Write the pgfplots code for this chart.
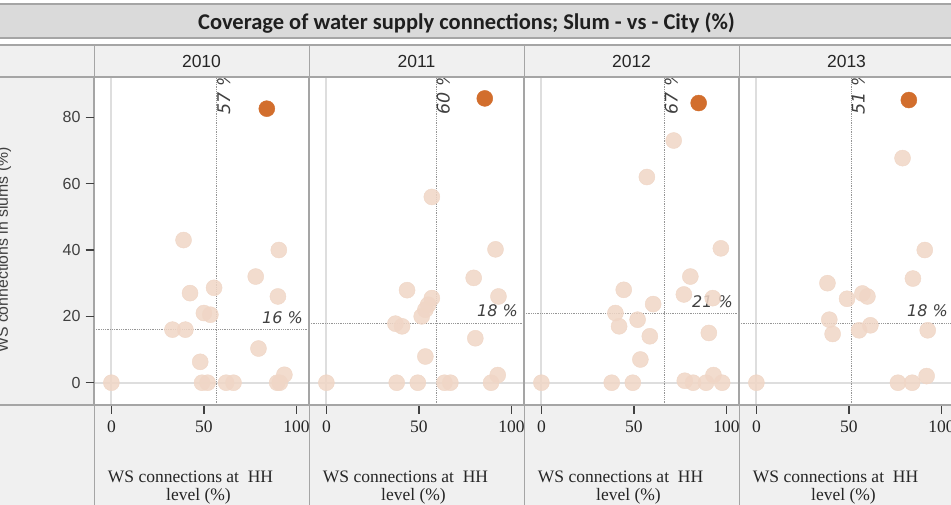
\documentclass[border=0pt]{standalone}
\usepackage{fontspec}
\usepackage{pgfplots}
\usepackage{pgfplotstable}
\pgfplotsset{compat=1.18}
\setmainfont{Liberation Serif}
\newfontfamily\sansf{Liberation Sans}
\newfontfamily\carl{Carlito}
\newfontfamily\dvs{DejaVu Sans}
\definecolor{titlegray}{RGB}{218,218,218}
\definecolor{hdrgray}{RGB}{240,240,240}
\definecolor{bordgray}{RGB}{165,165,165}
\definecolor{ptlight}{RGB}{240,214,198}
\definecolor{pthigh}{RGB}{210,110,45}
\definecolor{zerogray}{RGB}{222,222,222}
\definecolor{refgray}{RGB}{150,150,150}

\pgfplotstableread{
x y
0 0
39 43
42.5 27
33 16
40 16
50 21
53.5 20.5
55.5 28.6
48 6.3
49 0
52 0
62 0
66 0
78 32
90.5 40
90 26
79.5 10.3
89.6 0
91 0
93.5 2.4
}\dataA
\pgfplotstableread{
x y
0 0
57 56
91.4 40.2
79.6 31.6
43.6 27.9
57 25.5
55 23.5
53.5 22
51.5 20
37.3 17.8
40.9 17
93 26
80.5 13.4
53.5 7.9
38 0
49.4 0
63.8 0
67 0
89 0
92.6 2.3
}\dataB
\pgfplotstableread{
x y
0 0
71.5 73
57 62
97 40.5
80.5 32
44.5 28
77 26.6
92.6 25.5
60.4 23.7
40 21
42 17
52 19
58.6 14
53.5 7
90.5 15
38 0
49.4 0
77.5 0.6
82 0
89 0
93 2.3
97.7 0
}\dataC
\pgfplotstableread{
x y
0 0
79 67.7
91 40
84.6 31.4
38.4 30
49 25.3
57.3 26.9
60 26
39.4 19
41.2 14.7
55.5 15.8
61.6 17.3
92.6 15.8
76.5 0
84.2 0
92 2
}\dataD

\pgfplotsset{
  panel/.style={
    scale only axis, width=215pt, height=328pt, anchor=north west,
    xmin=-9.4, xmax=106.8, ymin=-6.72, ymax=92.15,
    axis line style={bordgray, line width=1.5pt},
    xtick={0,50,100}, xtick pos=left, ytick pos=left,
    tick align=outside, major tick length=8pt,
    major tick style={draw=black!75, line width=1.5pt},
    /pgf/number format/assume math mode=true,
    xticklabel style={font=\fontsize{17.5}{20}\selectfont, text=black!85, yshift=-4pt},
    yticklabel style={font=\sansf\fontsize{16}{18}\selectfont, text=black!75, xshift=-2pt},
  },
  lightpts/.style={only marks, color=ptlight, mark=*, mark size=8pt, mark options={draw=none, fill=ptlight, fill opacity=0.85}},
  highpt/.style={only marks, color=pthigh, mark=*, mark size=8pt, mark options={draw=none, fill=pthigh}},
}
\tikzset{
  zeroline/.style={zerogray, line width=1.8pt},
  refline/.style={refgray, densely dotted, line width=0.8pt},
  vlab/.style={rotate=90, anchor=north west, inner sep=0pt, xshift=6pt, font=\dvs\itshape\fontsize{17.5}{20}\selectfont, text=black!75},
  hlab/.style={anchor=base east, inner sep=1pt, xshift=-5pt, yshift=6pt, fill=white, fill opacity=0.6, text opacity=1, font=\dvs\itshape\fontsize{16}{18}\selectfont, text=black!75},
}

\newcommand{\panelbody}[6]{%
  \draw[zeroline] (axis cs:0,-6.72) -- (axis cs:0,92.15);
  \draw[zeroline] (axis cs:-9.4,0) -- (axis cs:106.8,0);
  \addplot[lightpts] table {#1};
  \addplot[highpt] coordinates {(#2,#3)};
  \draw[refline] (axis cs:#4,-6.72) -- (axis cs:#4,92.15);
  \draw[refline] (axis cs:-9.4,#5) -- (axis cs:106.8,#5);
  \node[vlab] at (axis cs:#4,78.9) {#6 \%};
}

\begin{document}
\begin{tikzpicture}
\useasboundingbox (0pt,0pt) rectangle (951pt,-505pt);
\begin{scope}[x=1pt,y=-1pt]
  \fill[white] (0,0) rectangle (951,505);
  \fill[hdrgray] (0,77) rectangle (94,505);
  \fill[hdrgray] (0,405) rectangle (951,505);
\end{scope}

\begin{axis}[panel, at={(94pt,-77pt)}, ytick={0,20,40,60,80}]
  \panelbody{\dataA}{84}{82.6}{57}{16}{57}
  \node[hlab] at (axis cs:106.8,16) {16 \%};
\end{axis}
\begin{axis}[panel, at={(309pt,-77pt)}, ytick=\empty]
  \panelbody{\dataB}{85.6}{85.7}{59.5}{18}{60}
  \node[hlab] at (axis cs:106.8,18) {18 \%};
\end{axis}
\begin{axis}[panel, at={(524pt,-77pt)}, ytick=\empty]
  \panelbody{\dataC}{85}{84.3}{66.5}{20.8}{67}
  \node[hlab] at (axis cs:106.8,20.8) {21 \%};
\end{axis}
\begin{axis}[panel, at={(739pt,-77pt)}, ytick=\empty]
  \panelbody{\dataD}{82.4}{85.2}{51.4}{18}{51}
  \node[hlab] at (axis cs:106.8,18) {18 \%};
\end{axis}

\begin{scope}[x=1pt,y=-1pt]
  % title bar
  \filldraw[fill=titlegray, draw=bordgray, line width=1.2pt] (-2,4) rectangle (953,38);
  \node[anchor=base, font=\carl\bfseries\fontsize{22.5}{26}\selectfont, text=black!88] at (466.5,30) {Coverage of water supply connections; Slum - vs - City (\%)};
  % header row
  \filldraw[fill=hdrgray, draw=bordgray, line width=1.2pt] (-2,45) rectangle (953,77);
  \foreach \xl/\yr in {94/2010, 309/2011, 524/2012, 739/2013} {
    \node[font=\sansf\fontsize{17.5}{20}\selectfont, text=black!85] at (\xl+107.5,61) {\yr};
    \node[anchor=base, font=\fontsize{17.5}{20}\selectfont, text=black!85] at (\xl+96.5,482) {WS connections at~~HH};
    \node[anchor=base, font=\fontsize{17.5}{20}\selectfont, text=black!85] at (\xl+104.5,500.5) {level (\%)};
    \foreach \d in {17.39,109.9,202.4} {
      \draw[black!75, line width=1.5pt] (\xl+\d,406.5) -- (\xl+\d,413.5);
    }
  }
  % y ticks
  \foreach \yy in {117.3,183.7,250.0,316.4,382.7} {
    \draw[black!75, line width=1.5pt] (85.5,\yy) -- (93.5,\yy);
  }
  % separators
  \foreach \xl in {94.5,309.5,524.5,739.5} {
    \draw[bordgray, line width=1.5pt] (\xl,45) -- (\xl,505);
  }
  \draw[bordgray, line width=1.5pt] (0,77) -- (951,77);
  \draw[bordgray, line width=1.5pt] (0,405) -- (951,405);
  % y label
  \node[rotate=90, anchor=base, font=\sansf\fontsize{15.8}{18}\selectfont, text=black!75] at (8,250) {WS connections in slums (\%)};
\end{scope}
\end{tikzpicture}
\end{document}
